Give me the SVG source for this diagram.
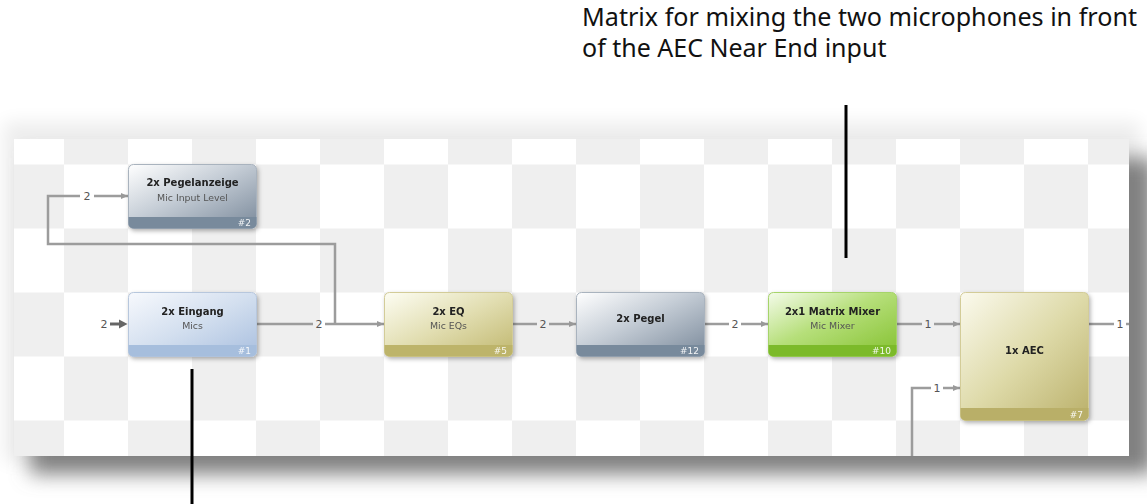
<svg xmlns="http://www.w3.org/2000/svg" width="1147" height="504" viewBox="0 0 1147 504">
<defs>
<style>
.ann{font-family:"Noto Sans","DejaVu Sans",sans-serif;font-size:25px;fill:#111}
.t{font-family:"DejaVu Sans","Liberation Sans",sans-serif;font-size:10px;font-weight:bold;fill:#222;text-anchor:middle}
.s{font-family:"DejaVu Sans","Liberation Sans",sans-serif;font-size:9.4px;fill:#555;text-anchor:middle}
.id{font-family:"DejaVu Sans","Liberation Sans",sans-serif;font-size:9px;fill:#fff;text-anchor:end;opacity:.9}
.lbl{font-family:"DejaVu Sans","Liberation Sans",sans-serif;font-size:11px;fill:#555;text-anchor:middle}
.ln{fill:none;stroke:#9c9c9c;stroke-width:2.5}
.ann-line{stroke:#000;stroke-width:3}
</style>
<pattern id="chk" patternUnits="userSpaceOnUse" x="0" y="100.5" width="128" height="128">
<rect width="128" height="128" fill="#fff"/>
<rect x="64" y="0" width="64" height="64" fill="#efefef"/>
<rect x="0" y="64" width="64" height="64" fill="#efefef"/>
</pattern>
<filter id="blurBig" x="-10%" y="-30%" width="120%" height="160%"><feGaussianBlur stdDeviation="10"/></filter>
<filter id="blurSm" x="-10%" y="-30%" width="120%" height="160%"><feGaussianBlur stdDeviation="9"/></filter>
<filter id="nsh" x="-10%" y="-10%" width="130%" height="140%"><feDropShadow dx="1.5" dy="2" stdDeviation="2" flood-color="#000" flood-opacity="0.3"/></filter>
<marker id="ar" markerUnits="userSpaceOnUse" markerWidth="8" markerHeight="8" refX="7" refY="4" orient="auto"><path d="M0,1 L7,4 L0,7 z" fill="#999"/></marker>
<linearGradient id="lead" x1="0" x2="1" y1="0" y2="0"><stop offset="0" stop-color="#fff"/><stop offset="1" stop-color="#9a9a9a"/></linearGradient>
<linearGradient id="gSlate" x1="0" y1="0" x2="1" y2="1"><stop offset="0" stop-color="#ffffff"/><stop offset="0.45" stop-color="#c5cdd6"/><stop offset="1" stop-color="#7a899a"/></linearGradient>
<linearGradient id="gBlue" x1="0" y1="0" x2="1" y2="1"><stop offset="0" stop-color="#f7f9fd"/><stop offset="0.5" stop-color="#d3dfef"/><stop offset="1" stop-color="#a9bfdf"/></linearGradient>
<linearGradient id="gOlive" x1="0" y1="0" x2="1" y2="1"><stop offset="0" stop-color="#fdfdf3"/><stop offset="0.5" stop-color="#e1ddb0"/><stop offset="1" stop-color="#c0b76e"/></linearGradient>
<linearGradient id="gGreen" x1="0" y1="0" x2="1" y2="1"><stop offset="0" stop-color="#f4fbea"/><stop offset="0.45" stop-color="#b6df7a"/><stop offset="1" stop-color="#84c130"/></linearGradient>
<linearGradient id="gAec" x1="0" y1="0" x2="1" y2="1"><stop offset="0" stop-color="#fbfaee"/><stop offset="0.5" stop-color="#dedaa9"/><stop offset="1" stop-color="#bab06a"/></linearGradient>
</defs>

<!-- panel shadows -->
<rect x="4" y="122" width="1136" height="340" fill="#000" opacity="0.07" filter="url(#blurSm)"/>
<rect x="30" y="158" width="1124" height="316" fill="#808080" filter="url(#blurBig)"/>
<!-- panel -->
<rect x="14" y="139" width="1115" height="317" fill="url(#chk)"/>

<g id="connectors">
<line x1="80" y1="324" x2="99" y2="324" stroke="url(#lead)" stroke-width="2.5"/>
<text class="lbl" x="104" y="328">2</text>
<line x1="110" y1="324" x2="121" y2="324" stroke="#666" stroke-width="3"/>
<path d="M119,319.5 L127.5,324 L119,328.5 z" fill="#666"/>
<line class="ln" x1="257" y1="324" x2="313" y2="324"/>
<text class="lbl" x="319" y="328">2</text>
<line class="ln" x1="325" y1="324" x2="384" y2="324" marker-end="url(#ar)"/>
<path class="ln" d="M335,324 V244 H48 V196 H80"/>
<text class="lbl" x="87" y="200">2</text>
<line class="ln" x1="94" y1="196" x2="128" y2="196" marker-end="url(#ar)"/>
<line class="ln" x1="513" y1="324" x2="537" y2="324"/>
<text class="lbl" x="543" y="328">2</text>
<line class="ln" x1="549" y1="324" x2="576" y2="324" marker-end="url(#ar)"/>
<line class="ln" x1="705" y1="324" x2="729" y2="324"/>
<text class="lbl" x="735" y="328">2</text>
<line class="ln" x1="741" y1="324" x2="768" y2="324" marker-end="url(#ar)"/>
<line class="ln" x1="897" y1="324" x2="922" y2="324"/>
<text class="lbl" x="928" y="328">1</text>
<line class="ln" x1="934" y1="324" x2="960" y2="324" marker-end="url(#ar)"/>
<line class="ln" x1="1089" y1="324" x2="1114" y2="324"/>
<text class="lbl" x="1120" y="328">1</text>
<line class="ln" x1="1126" y1="324" x2="1129" y2="324"/>
<path class="ln" d="M912,456 V388 H931" stroke-width="2"/>
<text class="lbl" x="937" y="392">1</text>
<line class="ln" x1="943" y1="388" x2="960" y2="388" stroke-width="2" marker-end="url(#ar)"/>
</g>

<g id="n2" filter="url(#nsh)">
<rect x="128.5" y="164.5" width="128" height="64" rx="5" fill="url(#gSlate)" stroke="#a9b3be"/>
<path d="M128.5,217 h128 v6.5 a5,5 0 0 1 -5,5 h-118 a5,5 0 0 1 -5,-5 z" fill="#788a9c"/>
<text class="t" x="192.5" y="186">2x Pegelanzeige</text>
<text class="s" x="192.5" y="201">Mic Input Level</text>
<text class="id" x="251" y="225.5">#2</text>
</g>

<g id="n1" filter="url(#nsh)">
<rect x="128.5" y="292.5" width="128" height="64" rx="5" fill="url(#gBlue)" stroke="#b7c7dd"/>
<path d="M128.5,345 h128 v6.5 a5,5 0 0 1 -5,5 h-118 a5,5 0 0 1 -5,-5 z" fill="#a6bedd"/>
<text class="t" x="192.5" y="315">2x Eingang</text>
<text class="s" x="192.5" y="329">Mics</text>
<text class="id" x="251" y="353.5">#1</text>
</g>

<g id="n5" filter="url(#nsh)">
<rect x="384.5" y="292.5" width="128" height="64" rx="5" fill="url(#gOlive)" stroke="#d3cc98"/>
<path d="M384.5,345 h128 v6.5 a5,5 0 0 1 -5,5 h-118 a5,5 0 0 1 -5,-5 z" fill="#bdb46b"/>
<text class="t" x="448.5" y="315">2x EQ</text>
<text class="s" x="448.5" y="329">Mic EQs</text>
<text class="id" x="507" y="353.5">#5</text>
</g>

<g id="n12" filter="url(#nsh)">
<rect x="576.5" y="292.5" width="128" height="64" rx="5" fill="url(#gSlate)" stroke="#a9b3be"/>
<path d="M576.5,345 h128 v6.5 a5,5 0 0 1 -5,5 h-118 a5,5 0 0 1 -5,-5 z" fill="#788a9c"/>
<text class="t" x="640.5" y="322">2x Pegel</text>
<text class="id" x="699" y="353.5">#12</text>
</g>

<g id="n10" filter="url(#nsh)">
<rect x="768.5" y="292.5" width="128" height="64" rx="5" fill="url(#gGreen)" stroke="#a6d46a"/>
<path d="M768.5,345 h128 v6.5 a5,5 0 0 1 -5,5 h-118 a5,5 0 0 1 -5,-5 z" fill="#7cba2c"/>
<text class="t" x="832.5" y="315">2x1 Matrix Mixer</text>
<text class="s" x="832.5" y="329">Mic Mixer</text>
<text class="id" x="891" y="353.5">#10</text>
</g>

<g id="n7" filter="url(#nsh)">
<rect x="960.5" y="292.5" width="128" height="128" rx="5" fill="url(#gAec)" stroke="#d3cc98"/>
<path d="M960.5,408 h128 v7.5 a5,5 0 0 1 -5,5 h-118 a5,5 0 0 1 -5,-5 z" fill="#b9af68"/>
<text class="t" x="1024.5" y="354">1x AEC</text>
<text class="id" x="1083" y="417.5">#7</text>
</g>

<g id="annotations">
<text class="ann" x="582" y="26" textLength="555" lengthAdjust="spacingAndGlyphs">Matrix for mixing the two microphones in front</text>
<text class="ann" x="582" y="57">of the AEC Near End input</text>
<line class="ann-line" x1="846" y1="105" x2="846" y2="258"/>
<line class="ann-line" x1="192" y1="369" x2="192" y2="504"/>
</g>
</svg>
